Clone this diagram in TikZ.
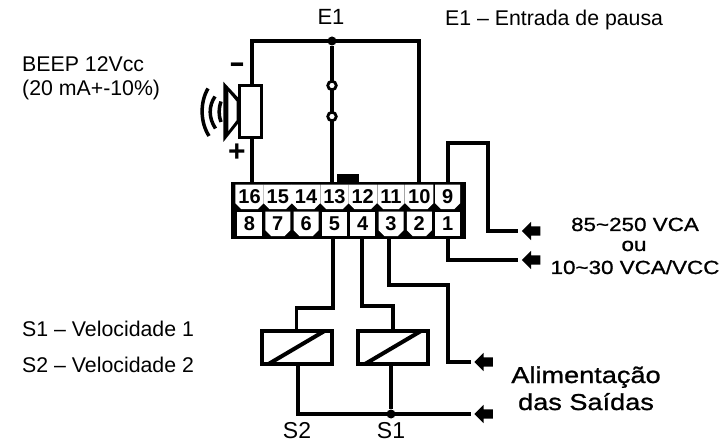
\documentclass[tikz,border=0pt]{standalone}
\usepackage{fontspec}
\setmainfont{Liberation Sans}
\newfontfamily\widefont[FakeStretch=1.18,FakeBold=1]{Liberation Sans}
\usetikzlibrary{shapes.misc,shapes.arrows}
\begin{document}
\begin{tikzpicture}[x=1pt,y=-1pt]
        \tikzset{wire/.style = {line width=3.8pt}}
        \tikzset{label/.style = {font=\fontsize{23}{27}\selectfont,anchor=base,inner sep=0pt}}
        \tikzset{title/.style = {font=\fontsize{21.3}{25}\selectfont,inner sep=0pt,anchor=base west}}
        \tikzset{wide/.style = {font=\fontsize{19}{22}\widefont,anchor=base,inner sep=0pt}}
        \tikzset{big/.style = {font=\fontsize{23}{27}\widefont,anchor=base,inner sep=0pt}}
        \tikzset{pin/.style = {shape=rectangle,fill=white,inner sep=0pt,minimum width=25pt,minimum height=24.5pt,font=\fontsize{20}{20}\bfseries}}
        \tikzset{pincut/.style = {pin,shape=chamfered rectangle,chamfered rectangle corners={south west,south east},chamfered rectangle xsep=3pt,chamfered rectangle ysep=3pt}}
        \tikzset{coil/.style = {shape=rectangle,draw,line width=4pt,fill=white,minimum width=70pt,minimum height=33pt,outer sep=0pt}}
        \tikzset{contact/.style = {shape=circle,draw,line width=2.8pt,fill=white,minimum size=8.5pt,inner sep=0pt,outer sep=0pt}}
        \tikzset{junction/.style = {shape=circle,fill,minimum size=9pt,inner sep=0pt}}
        \tikzset{feed/.style = {shape=single arrow,fill,shape border rotate=180,minimum height=18.5pt,single arrow head extend=4.5pt,inner sep=4.5pt,outer sep=0pt}}
        \useasboundingbox (0,0) rectangle (722,443);
        % terminal block
        \node[shape=rectangle,fill,minimum width=235pt,minimum height=57pt,inner sep=0pt,outer sep=0pt] (block) at (348.5,210.5) {};
        \node[shape=rectangle,fill,minimum width=22pt,minimum height=8pt,inner sep=0pt] (tab) at (348,178.5) {};
        \node[pincut] (t16) at (249.5,197) {16};
        \node[pincut] (t15) at (277.8,197) {15};
        \node[pincut] (t14) at (306.1,197) {14};
        \node[pincut] (t13) at (334.4,197) {13};
        \node[pincut] (t12) at (362.7,197) {12};
        \node[pincut] (t11) at (391,197) {11};
        \node[pincut] (t10) at (419.3,197) {10};
        \node[pincut] (t9) at (447.6,197) {9};
        \node[pin] (t8) at (249.5,224) {8};
        \node[pincut] (t7) at (277.8,224) {7};
        \node[pincut] (t6) at (306.1,224) {6};
        \node[pin] (t5) at (334.4,224) {5};
        \node[pin] (t4) at (362.7,224) {4};
        \node[pincut] (t3) at (391,224) {3};
        \node[pincut] (t2) at (419.3,224) {2};
        \node[pin] (t1) at (447.6,224) {1};
        % beep
        \node[shape=rectangle,draw,line width=3.8pt,fill=white,minimum width=22pt,minimum height=52pt,outer sep=0pt] (beep) at (250.5,111.5) {};
        \fill (223.3,81.7) -- (238.5,98) -- (238.5,123) -- (223.3,142) -- cycle;
        \fill[white] (228.3,91.7) -- (236.7,101.7) -- (236.7,120) -- (228.3,131) -- cycle;
        \draw[line width=3.5pt] (208,88.5) .. controls (200,102) and (200,122) .. (209,136);
        \draw[line width=3.5pt] (215,96.5) .. controls (208.5,106) and (208.5,118) .. (215.5,128.5);
        \draw[line width=3.5pt] (221,101.5) .. controls (218.5,108) and (218.5,116) .. (221,122);
        \node[font=\fontsize{30}{30}\bfseries,inner sep=0pt] (minus) at (237,68) {\scalebox{1.6}[1]{-}};
        \node[font=\fontsize{30}{30}\bfseries,inner sep=0pt] (plus) at (237,153) {+};
        % top wires
        \coordinate (topl) at (252,41);
        \coordinate (topr) at (419,41);
        \node[junction] (j) at (332,41) {};
        \node[contact] (swa) at (332,85.5) {};
        \node[contact] (swb) at (332,116.5) {};
        \draw[wire] (topl |- beep.north) -- (topl) -- (topr) -- (topr |- block.north);
        \draw[wire] (topl |- beep.south) -- (topl |- block.north);
        \draw[wire] (j) -- (swa);
        \draw[wire] (swa) -- (swb);
        \draw[wire] (swb) -- (j |- block.north);
        % coils
        \node[coil] (coilb) at (296.5,347.5) {};
        \node[coil] (coila) at (393,347.5) {};
        \draw[line width=4pt] ([xshift=7pt]coilb.south west) -- ([xshift=-7pt]coilb.north east);
        \draw[line width=4pt] ([xshift=7pt]coila.south west) -- ([xshift=-7pt]coila.north east);
        \coordinate (bendb) at (333,308);
        \coordinate (benda) at (362,306);
        \draw[wire] (bendb |- block.south) -- (bendb) -| (coilb.north);
        \draw[wire] (benda |- block.south) -- (benda) -| (coila.north);
        % supply
        \node[feed] (feeda) at (533.5,231) {};
        \node[feed] (feedb) at (533.5,260) {};
        \node[feed] (feedc) at (486,362) {};
        \node[feed] (feedd) at (486,414) {};
        \coordinate (bendc) at (447.7,143);
        \coordinate (bendd) at (488,143);
        \draw[wire] (bendc |- block.north) -- (bendc) -- (bendd) |- ([xshift=-3.5pt]feeda.tip);
        \draw[wire] (bendc |- block.south) |- ([xshift=-3.5pt]feedb.tip);
        % outputs
        \coordinate (bende) at (389,285);
        \coordinate (bendf) at (448,285);
        \draw[wire] (bende |- block.south) -- (bende) -- (bendf) |- ([xshift=-3.5pt]feedc.tip);
        \node[junction] (jb) at (391,414) {};
        \coordinate (cornerb) at (298,414);
        \draw[wire] (cornerb |- coilb.south) -- (cornerb) -- ([xshift=-3.5pt]feedd.tip);
        \draw[wire] (jb |- coila.south) -- (jb);
        % texts
        \node[label,font=\fontsize{22}{26}\selectfont] (e1) at (331,25) {E1};
        \node[title] (e1text) at (445,26) {E1 – Entrada de pausa};
        \node[title] (beeptext) at (22,72) {BEEP 12Vcc};
        \node[title] (beepval) at (22,96) {(20 mA+-10\%)};
        \node[title] (s1text) at (22,336) {S1 – Velocidade 1};
        \node[title] (s2text) at (22,372) {S2 – Velocidade 2};
        \node[label] (s2) at (297,438.3) {S2};
        \node[label] (s1) at (391,438.3) {S1};
        \node[wide] (vca) at (635,231) {85\char`\~250 VCA};
        \node[wide] (ou) at (634,251) {ou};
        \node[wide] (vcc) at (635,274) {10\char`\~30 VCA/VCC};
        \node[big] (alim) at (586,383) {Alimentação};
        \node[big] (saidas) at (586,410) {das Saídas};
        \end{tikzpicture}
\end{document}
